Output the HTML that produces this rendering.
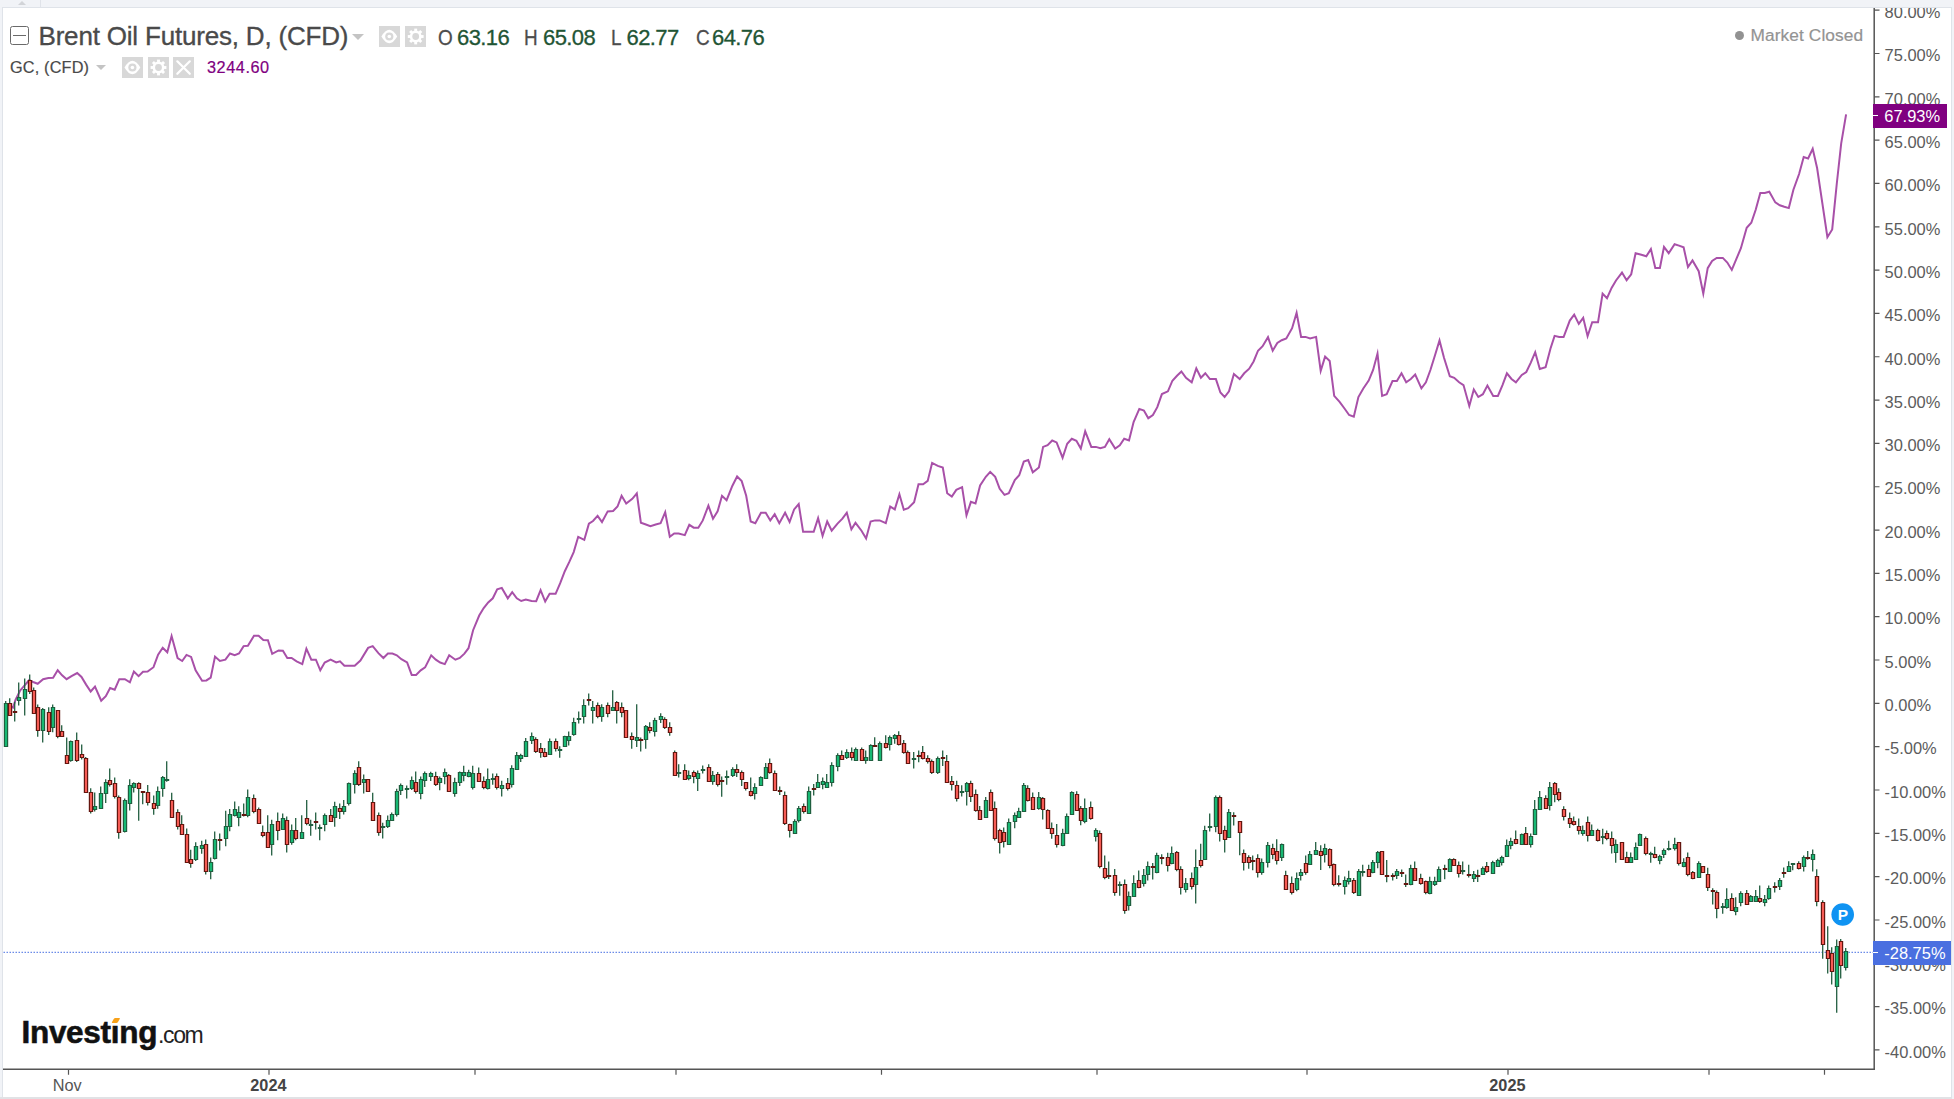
<!DOCTYPE html>
<html><head><meta charset="utf-8"><title>Brent Oil Futures chart</title>
<style>
html,body{margin:0;padding:0;}
body{width:1954px;height:1099px;background:#f1f3f7;position:relative;overflow:hidden;font-family:"Liberation Sans",sans-serif;}
#chart{position:absolute;left:2px;top:7px;width:1950px;height:1091px;background:#fff;border:1px solid #dfe3e9;box-sizing:border-box;}
svg{position:absolute;left:0;top:0;}
.t{position:absolute;white-space:nowrap;line-height:1;}
.ohlc{-webkit-text-stroke:0.3px currentColor;}
#gc,#gcv,#mc{-webkit-text-stroke:0.2px currentColor;}
.yl{position:absolute;left:1884.6px;font-size:16.45px;color:#5c5c5c;line-height:20px;height:20px;white-space:nowrap;}
.ib{position:absolute;background:#d8d8d8;}
.tag{position:absolute;color:#fff;font-size:16.45px;line-height:25px;height:24px;white-space:nowrap;box-sizing:border-box;padding-left:11.3px;}
</style></head><body>
<div id="chart"></div>
<svg width="1954" height="1099" viewBox="0 0 1954 1099">
<line x1="3.5" y1="952.3" x2="1874" y2="952.3" stroke="#5b7fe6" stroke-width="1.2" stroke-dasharray="1.5 1.5" opacity="0.9"/>
<path d="M5.4 704.3 L9.7 706.1 L13.1 707.6 L15.4 700.0 L20.0 690.7 L24.6 685.3 L29.2 680.0 L33.8 682.3 L37.7 683.8 L43.1 679.2 L48.4 678.0 L53.1 677.8 L57.7 670.3 L62.1 675.3 L66.6 679.2 L71.5 676.1 L77.2 673.0 L81.5 676.9 L86.1 684.6 L90.7 691.5 L95.0 686.6 L101.2 700.7 L105.8 696.1 L110.1 688.0 L114.7 689.7 L119.3 679.2 L124.9 679.2 L129.9 682.3 L133.9 671.5 L138.6 676.1 L143.0 671.8 L147.6 671.5 L153.5 667.2 L158.1 654.6 L162.7 647.7 L167.3 652.3 L171.6 636.1 L177.6 658.1 L182.2 661.0 L186.5 654.9 L191.1 656.9 L195.6 670.4 L202.1 680.7 L206.4 680.4 L210.7 677.7 L215.0 656.6 L219.9 661.0 L225.4 659.7 L230.0 653.5 L234.7 655.1 L239.0 653.5 L243.6 646.1 L247.9 645.8 L254.0 635.8 L258.6 635.8 L263.3 640.0 L267.9 640.3 L272.2 653.8 L278.6 650.4 L282.9 650.7 L287.3 658.1 L291.6 658.0 L296.6 661.3 L302.3 664.1 L306.4 648.7 L311.3 659.7 L315.9 659.7 L320.3 670.3 L324.7 662.6 L330.6 659.7 L336.2 662.5 L340.0 661.3 L344.4 665.7 L354.7 665.7 L360.4 660.5 L368.1 647.9 L372.7 646.1 L378.4 653.1 L383.4 658.0 L387.9 653.6 L392.4 653.6 L396.8 655.3 L401.4 659.2 L407.1 662.5 L411.7 674.9 L416.1 674.9 L420.7 670.3 L425.1 667.4 L431.2 655.3 L435.8 659.7 L440.2 662.5 L444.8 664.1 L449.2 655.3 L455.4 659.7 L459.8 658.0 L464.4 653.6 L468.5 648.2 L473.1 630.2 L479.2 615.5 L483.7 608.1 L488.2 602.4 L492.8 598.3 L497.2 589.3 L501.8 587.9 L507.8 598.3 L512.2 592.2 L516.8 598.3 L521.2 601.0 L525.8 599.6 L531.6 601.0 L536.2 601.2 L540.6 590.1 L545.2 601.5 L549.6 593.8 L555.6 593.8 L560.2 583.2 L564.8 571.2 L569.2 562.2 L573.7 552.1 L578.2 536.8 L584.3 539.8 L588.9 523.7 L593.0 521.0 L597.6 515.9 L602.0 522.0 L607.7 511.4 L613.1 511.0 L617.5 506.5 L621.6 495.8 L626.2 503.5 L632.3 498.8 L636.8 493.4 L640.9 522.8 L645.9 524.5 L650.4 526.1 L655.7 524.5 L660.6 523.2 L665.2 512.2 L669.8 536.8 L674.2 533.5 L678.6 533.5 L684.8 535.1 L689.3 524.8 L693.7 527.7 L698.3 527.7 L702.8 520.4 L708.4 505.6 L713.0 518.7 L717.6 511.4 L722.0 495.8 L726.6 500.2 L732.3 486.0 L737.1 476.5 L741.7 481.1 L746.2 495.8 L750.7 521.5 L755.3 523.2 L761.0 512.7 L765.7 512.7 L770.3 520.4 L774.7 514.2 L779.3 523.2 L785.1 512.7 L789.6 522.0 L794.1 509.4 L798.7 504.0 L803.1 531.8 L813.7 531.8 L818.1 518.2 L822.6 535.9 L827.2 521.5 L831.7 530.7 L837.5 523.6 L842.4 518.7 L846.8 512.7 L851.4 529.4 L855.5 522.8 L861.5 530.7 L866.1 538.4 L870.6 521.5 L875.1 520.4 L879.7 520.4 L885.8 523.2 L890.2 506.5 L894.8 509.4 L899.4 494.2 L903.8 509.7 L908.2 508.1 L914.1 502.2 L918.5 484.2 L923.1 484.2 L927.7 480.9 L932.1 462.9 L937.8 465.9 L942.8 467.5 L947.2 493.2 L951.8 496.5 L956.3 489.9 L962.1 487.2 L966.5 515.3 L970.9 501.9 L975.5 503.5 L980.1 485.5 L985.8 476.8 L990.2 471.9 L995.2 476.8 L999.7 488.8 L1004.5 494.9 L1008.8 493.2 L1014.8 480.1 L1019.2 475.2 L1023.8 461.6 L1028.2 460.1 L1032.8 472.4 L1038.9 467.5 L1043.1 446.9 L1047.6 445.2 L1052.2 440.5 L1056.6 442.4 L1062.6 457.7 L1067.2 443.8 L1071.8 438.8 L1076.4 440.8 L1080.8 448.5 L1085.2 431.3 L1091.3 446.9 L1095.9 446.9 L1100.3 448.2 L1104.9 446.9 L1109.3 439.2 L1115.2 448.5 L1119.8 445.4 L1124.2 438.8 L1129.0 440.5 L1133.6 422.0 L1139.3 408.9 L1143.9 410.5 L1148.3 418.2 L1152.9 415.1 L1157.3 407.2 L1161.9 394.1 L1167.9 391.3 L1172.4 380.7 L1177.0 375.8 L1181.4 371.5 L1186.0 377.8 L1191.7 382.3 L1196.3 368.4 L1200.9 377.8 L1205.3 373.2 L1209.9 379.1 L1215.9 379.1 L1220.4 392.5 L1224.6 397.0 L1229.0 391.3 L1233.9 374.1 L1239.7 379.0 L1244.2 373.3 L1249.2 368.7 L1253.6 361.5 L1258.0 350.7 L1262.6 346.2 L1268.0 337.2 L1272.7 350.7 L1277.3 343.0 L1281.7 340.2 L1286.3 338.5 L1292.1 328.2 L1296.6 312.7 L1301.1 336.9 L1305.5 336.9 L1310.1 338.5 L1316.1 336.9 L1320.7 370.8 L1325.1 356.6 L1329.7 361.0 L1334.2 395.9 L1339.6 401.9 L1344.5 408.5 L1349.1 415.0 L1353.8 416.7 L1358.4 397.0 L1363.3 388.5 L1368.7 380.6 L1373.1 370.0 L1377.5 353.6 L1382.1 395.9 L1386.7 394.2 L1392.5 381.0 L1396.9 381.0 L1401.5 373.3 L1406.2 382.3 L1410.8 379.0 L1415.2 374.6 L1421.4 388.3 L1425.9 382.3 L1430.4 370.0 L1435.0 355.2 L1439.5 340.5 L1444.0 357.7 L1449.8 376.2 L1454.2 377.8 L1459.1 382.3 L1463.5 385.1 L1469.3 406.0 L1473.8 389.6 L1478.3 397.0 L1482.9 394.2 L1487.4 385.5 L1493.2 395.9 L1497.9 395.9 L1502.5 385.1 L1506.9 373.3 L1511.5 379.0 L1515.9 382.3 L1521.8 374.9 L1526.3 372.0 L1530.8 362.6 L1535.2 352.2 L1539.8 368.9 L1545.6 367.3 L1550.5 348.5 L1554.6 335.9 L1559.2 337.0 L1563.6 337.0 L1569.8 320.6 L1574.2 314.6 L1578.8 323.9 L1583.2 317.8 L1587.6 336.2 L1592.2 322.3 L1598.0 322.3 L1602.6 293.6 L1607.0 298.2 L1611.6 287.9 L1616.0 280.5 L1622.0 272.6 L1626.6 280.2 L1631.2 274.3 L1635.6 253.2 L1641.4 254.8 L1646.3 256.3 L1650.9 249.1 L1655.3 267.9 L1659.9 267.9 L1664.0 246.9 L1668.7 253.2 L1674.6 244.2 L1679.0 245.6 L1683.6 247.3 L1688.0 267.1 L1692.5 260.5 L1698.7 271.2 L1703.3 293.6 L1707.7 268.2 L1712.1 260.9 L1716.7 257.9 L1722.8 257.9 L1727.3 262.5 L1731.8 269.9 L1736.4 258.9 L1740.9 248.2 L1746.7 227.7 L1751.3 222.8 L1755.7 209.7 L1760.3 193.0 L1764.7 193.0 L1769.3 191.7 L1775.3 202.4 L1779.8 205.3 L1784.3 206.8 L1788.8 208.1 L1793.4 189.7 L1799.1 174.0 L1803.7 157.0 L1808.1 158.5 L1812.7 148.8 L1817.1 168.0 L1827.4 237.2 L1832.2 229.4 L1836.8 183.5 L1841.2 143.4 L1846.1 114.4" fill="none" stroke="#a850a8" stroke-width="2" stroke-linejoin="miter" stroke-miterlimit="6" stroke-linecap="butt"/>
<path d="M5.70 701.1V747.0M9.70 698.2V715.4M14.70 701.8V721.4M18.70 682.6V705.6M24.70 678.5V715.4M29.70 674.4V694.1M33.70 687.5V713.7M37.70 704.4V736.7M42.70 708.0V742.4M48.70 707.2V735.0M52.70 704.4V732.3M57.70 710.0V738.3M61.70 725.2V736.3M66.70 737.5V763.2M70.70 740.4V761.7M76.70 732.6V762.1M81.70 744.5V759.6M85.70 757.1V792.0M90.70 788.3V813.6M94.70 792.4V811.5M100.70 786.6V808.2M105.70 779.3V803.0M109.70 768.6V786.6M114.70 777.6V798.4M118.70 795.6V838.7M124.70 798.4V832.5M129.70 779.3V810.4M133.70 782.2V792.4M138.70 782.2V820.7M142.70 791.5V804.3M147.70 785.0V805.5M153.70 795.6V814.8M157.70 786.6V808.7M162.70 776.0V796.8M166.70 761.2V781.7M171.70 792.7V817.3M177.70 809.2V829.5M181.70 815.3V834.1M186.70 828.4V862.3M190.70 849.7V867.7M195.70 842.3V861.1M201.70 840.7V853.8M205.70 839.4V874.6M210.70 857.4V879.2M214.70 831.6V859.6M219.70 833.4V850.4M225.70 810.8V846.3M229.70 809.1V831.2M234.70 801.4V816.5M238.70 806.3V826.3M243.70 803.4V816.5M247.70 789.5V817.3M253.70 794.4V813.2M258.70 807.5V823.4M262.70 825.5V837.3M267.70 815.2V847.3M271.70 819.8V855.5M277.70 812.4V840.2M282.70 813.6V829.1M286.70 816.5V852.5M291.70 824.4V844.7M295.70 818.1V840.2M301.70 815.2V838.3M306.70 800.1V825.2M310.70 819.8V835.7M315.70 812.4V829.6M319.70 824.4V840.2M324.70 813.6V831.2M330.70 809.1V821.9M334.70 801.8V826.7M339.70 803.4V819.0M343.70 800.1V814.5M348.70 782.4V805.5M354.70 770.2V793.6M358.70 761.3V785.9M363.70 774.4V793.6M367.70 779.3V791.6M372.70 792.8V820.3M378.70 812.4V835.7M382.70 822.7V838.6M387.70 815.4V828.0M391.70 812.4V820.3M396.70 788.7V816.5M400.70 783.4V794.9M406.70 785.4V798.5M411.70 776.4V790.0M415.70 771.5V793.6M420.70 776.4V799.3M424.70 771.5V787.0M430.70 771.8V781.0M435.70 771.8V785.9M439.70 776.4V790.3M444.70 768.5V784.2M448.70 773.9V791.9M454.70 777.7V796.8M459.70 771.5V785.9M463.70 765.7V781.3M468.70 769.8V777.2M472.70 765.7V789.5M478.70 767.4V781.3M483.70 776.4V789.2M487.70 768.5V789.5M492.70 773.4V784.8M496.70 773.4V789.4M501.70 780.7V796.6M507.70 777.9V790.5M511.70 765.2V787.6M516.70 752.1V769.3M520.70 753.7V761.9M525.70 738.1V757.0M531.70 732.4V743.9M535.70 737.3V752.9M540.70 743.1V757.8M544.70 748.0V757.3M549.70 738.5V754.0M555.70 738.5V751.6M559.70 746.3V757.8M564.70 735.7V747.1M568.70 731.6V745.5M573.70 717.7V735.7M578.70 711.6V723.4M583.70 699.3V723.4M588.70 693.4V705.4M592.70 701.0V723.4M597.70 702.4V718.2M601.70 704.2V721.8M607.70 702.4V717.3M612.70 690.2V711.1M616.70 701.0V723.4M621.70 702.4V717.3M625.70 710.3V737.8M631.70 732.4V748.8M636.70 704.2V747.1M640.70 737.6V751.6M645.70 725.0V748.8M649.70 722.3V733.2M654.70 717.7V736.5M660.70 713.2V722.9M664.70 717.3V729.1M669.70 722.3V735.7M674.70 750.4V775.3M678.70 764.3V777.4M684.70 764.3V779.9M688.70 770.4V780.2M693.70 770.4V783.2M697.70 770.4V790.9M702.70 765.5V773.4M708.70 764.3V781.2M712.70 770.9V784.8M717.70 772.0V786.5M721.70 776.6V796.8M726.70 770.4V784.8M732.70 767.3V777.1M736.70 764.3V777.1M741.70 770.4V786.1M745.70 782.4V790.5M750.70 777.4V796.6M754.70 783.2V799.6M760.70 776.3V785.6M765.70 763.0V778.3M769.70 758.6V773.7M774.70 770.4V790.2M779.70 786.5V795.1M784.70 791.4V824.9M789.70 823.8V837.5M794.70 819.2V833.5M798.70 806.1V822.5M803.70 803.6V813.4M808.70 786.4V813.4M813.70 784.0V795.4M817.70 774.1V787.2M822.70 777.4V789.2M826.70 774.1V787.2M831.70 762.3V786.4M837.70 753.3V771.3M841.70 750.4V759.1M846.70 749.2V759.1M851.70 747.4V760.5M855.70 747.4V760.2M861.70 747.4V760.2M865.70 750.4V763.8M870.70 744.3V760.2M874.70 737.3V747.1M879.70 741.4V760.2M885.70 735.2V748.4M889.70 735.6V750.4M894.70 734.0V743.8M898.70 731.2V745.5M903.70 740.1V753.7M907.70 750.4V763.2M913.70 752.0V768.4M918.70 750.4V762.3M922.70 746.0V759.4M927.70 755.3V763.5M931.70 759.4V774.1M937.70 756.4V774.1M942.70 750.4V765.9M946.70 755.0V782.6M951.70 776.1V790.5M956.70 780.7V801.5M961.70 785.3V796.6M966.70 782.0V805.6M970.70 780.7V802.0M975.70 789.4V811.8M979.70 806.1V820.0M985.70 797.1V817.2M990.70 789.4V811.0M994.70 801.6V840.5M999.70 828.7V853.6M1003.70 827.4V847.5M1008.70 818.4V844.2M1014.70 812.6V828.2M1018.70 807.7V817.2M1023.70 783.1V811.3M1027.70 785.3V801.6M1032.70 792.6V809.8M1038.70 792.1V809.8M1042.70 797.1V819.5M1047.70 809.3V829.0M1051.70 822.4V838.8M1056.70 824.1V847.5M1062.70 828.7V846.2M1066.70 813.4V833.9M1071.70 791.3V814.3M1076.70 791.3V811.0M1080.70 806.1V825.2M1084.70 798.4V823.3M1090.70 801.6V819.7M1095.70 828.2V841.6M1099.70 830.6V868.3M1104.70 855.5V879.3M1108.70 861.4V878.9M1114.70 869.1V895.8M1119.70 881.4V895.8M1124.70 879.4V913.8M1128.70 891.5V910.5M1133.70 875.3V896.4M1138.70 870.4V888.2M1143.70 869.1V886.6M1147.70 861.4V880.5M1152.70 863.0V879.4M1156.70 852.7V873.2M1161.70 854.3V864.2M1167.70 852.7V871.5M1171.70 846.5V864.2M1176.70 851.1V871.2M1180.70 866.3V894.5M1185.70 878.1V892.5M1191.70 872.4V889.6M1195.70 849.4V903.5M1200.70 843.7V867.4M1204.70 825.7V860.1M1209.70 813.4V831.4M1215.70 795.4V832.2M1219.70 795.4V841.6M1224.70 825.7V852.4M1228.70 809.0V838.0M1233.70 812.3V825.4M1239.70 821.3V855.2M1243.70 849.4V870.4M1248.70 855.2V868.8M1252.70 855.5V870.2M1257.70 854.3V877.6M1261.70 858.4V874.8M1267.70 842.1V867.4M1272.70 843.7V859.3M1276.70 839.3V864.5M1281.70 843.4V860.9M1285.70 870.7V889.2M1291.70 876.5V894.5M1296.70 872.4V891.2M1300.70 869.1V880.5M1305.70 855.5V874.8M1309.70 851.1V865.0M1315.70 842.1V854.8M1320.70 845.3V869.9M1324.70 843.7V862.5M1329.70 848.3V868.3M1333.70 863.4V886.3M1338.70 875.3V886.6M1344.70 876.5V894.5M1348.70 870.7V884.6M1353.70 878.1V894.1M1358.70 869.1V895.3M1362.70 864.7V876.5M1368.70 864.7V876.5M1372.70 860.1V873.2M1377.70 851.1V868.3M1381.70 851.1V874.5M1386.70 860.1V882.2M1392.70 873.2V880.5M1396.70 869.1V878.9M1401.70 869.4V877.1M1405.70 874.6V886.9M1410.70 864.8V885.3M1414.70 861.5V880.7M1420.70 873.8V884.8M1425.70 880.4V894.3M1429.70 876.8V894.3M1434.70 876.8V886.1M1438.70 866.5V882.0M1444.70 864.8V879.2M1449.70 858.3V871.4M1453.70 858.3V865.6M1458.70 861.5V877.4M1462.70 861.5V874.6M1468.70 864.8V877.4M1473.70 870.9V882.0M1477.70 869.7V882.0M1482.70 866.5V874.3M1486.70 861.9V873.0M1492.70 860.7V873.3M1497.70 858.8V866.5M1501.70 855.8V865.6M1506.70 839.4V856.6M1510.70 837.8V849.3M1515.70 830.4V844.3M1521.70 833.4V844.3M1525.70 827.1V844.3M1530.70 833.4V847.6M1534.70 800.1V834.5M1539.70 791.1V810.0M1545.70 795.2V808.3M1549.70 782.1V810.4M1554.70 782.1V802.3M1558.70 788.2V801.3M1563.70 806.3V820.6M1569.70 812.4V828.0M1573.70 816.5V825.5M1578.70 818.5V834.5M1582.70 825.5V835.7M1587.70 816.5V841.4M1591.70 824.4V835.7M1597.70 828.8V841.4M1602.70 828.8V844.3M1606.70 830.4V840.2M1611.70 831.6V853.4M1615.70 839.4V862.7M1621.70 842.4V859.4M1626.70 851.7V862.4M1630.70 852.5V862.4M1635.70 842.4V859.4M1639.70 833.4V846.0M1645.70 836.5V855.3M1650.70 851.7V862.7M1654.70 846.8V858.3M1659.70 854.7V864.3M1663.70 848.4V857.9M1668.70 840.7V850.4M1674.70 837.8V850.4M1678.70 842.4V865.6M1683.70 858.3V867.3M1687.70 852.5V876.3M1692.70 871.1V879.3M1698.70 861.3V877.2M1702.70 866.2V872.8M1707.70 867.8V891.1M1712.70 888.3V904.4M1716.70 890.4V918.3M1722.70 903.1V913.7M1726.70 888.3V908.8M1731.70 893.2V910.4M1735.70 897.3V915.3M1740.70 891.3V906.3M1746.70 890.0V904.2M1750.70 894.9V901.4M1755.70 890.0V901.4M1759.70 885.5V903.1M1764.70 894.9V906.3M1768.70 885.5V899.8M1774.70 882.3V892.4M1779.70 878.0V890.0M1783.70 867.5V877.7M1788.70 861.3V871.4M1792.70 863.3V870.3M1798.70 861.3V869.5M1803.70 855.6V871.4M1807.70 851.1V859.7M1812.70 849.5V871.4M1816.70 869.2V906.3M1822.70 900.3V958.7M1827.70 926.3V973.5M1831.70 947.3V984.4M1836.70 939.6V1012.8M1840.70 939.1V978.4M1845.70 948.1V970.5" stroke="#235f41" stroke-width="1.3" fill="none"/>
<path d="M4.4 703.5h3.2v43.0h-3.2zM17.4 697.5h3.2v3.0h-3.2zM23.4 689.5h3.2v9.0h-3.2zM41.4 709.5h3.2v21.0h-3.2zM51.4 707.5h3.2v20.0h-3.2zM69.4 741.5h3.2v19.0h-3.2zM93.4 806.5h3.2v3.0h-3.2zM99.4 793.5h3.2v15.0h-3.2zM104.4 782.5h3.2v11.0h-3.2zM123.4 800.5h3.2v31.0h-3.2zM128.4 785.5h3.2v18.0h-3.2zM132.4 783.5h3.2v4.0h-3.2zM156.4 791.5h3.2v14.0h-3.2zM161.4 777.5h3.2v11.0h-3.2zM165.4 779.5h3.2v1.0h-3.2zM194.4 846.5h3.2v13.0h-3.2zM200.4 845.5h3.2v3.0h-3.2zM209.4 862.5h3.2v9.0h-3.2zM213.4 839.5h3.2v19.0h-3.2zM224.4 826.5h3.2v12.0h-3.2zM228.4 814.5h3.2v12.0h-3.2zM233.4 809.5h3.2v6.0h-3.2zM237.4 812.5h3.2v5.0h-3.2zM246.4 797.5h3.2v18.0h-3.2zM270.4 824.5h3.2v20.0h-3.2zM281.4 818.5h3.2v11.0h-3.2zM290.4 830.5h3.2v12.0h-3.2zM300.4 832.5h3.2v6.0h-3.2zM309.4 824.5h3.2v1.0h-3.2zM318.4 827.5h3.2v1.0h-3.2zM323.4 815.5h3.2v9.0h-3.2zM333.4 806.5h3.2v11.0h-3.2zM342.4 806.5h3.2v5.0h-3.2zM347.4 783.5h3.2v20.0h-3.2zM353.4 773.5h3.2v11.0h-3.2zM362.4 779.5h3.2v3.0h-3.2zM381.4 826.5h3.2v1.0h-3.2zM386.4 820.5h3.2v6.0h-3.2zM390.4 814.5h3.2v6.0h-3.2zM395.4 791.5h3.2v23.0h-3.2zM399.4 785.5h3.2v5.0h-3.2zM405.4 788.5h3.2v1.0h-3.2zM410.4 780.5h3.2v8.0h-3.2zM419.4 779.5h3.2v14.0h-3.2zM423.4 773.5h3.2v7.0h-3.2zM429.4 773.5h3.2v3.0h-3.2zM438.4 778.5h3.2v4.0h-3.2zM443.4 772.5h3.2v4.0h-3.2zM453.4 782.5h3.2v11.0h-3.2zM458.4 772.5h3.2v10.0h-3.2zM462.4 772.5h3.2v3.0h-3.2zM467.4 772.5h3.2v4.0h-3.2zM471.4 773.5h3.2v14.0h-3.2zM486.4 779.5h3.2v9.0h-3.2zM491.4 778.5h3.2v1.0h-3.2zM500.4 785.5h3.2v3.0h-3.2zM510.4 768.5h3.2v16.0h-3.2zM515.4 755.5h3.2v14.0h-3.2zM519.4 755.5h3.2v3.0h-3.2zM524.4 741.5h3.2v15.0h-3.2zM530.4 736.5h3.2v4.0h-3.2zM548.4 741.5h3.2v13.0h-3.2zM558.4 749.5h3.2v1.0h-3.2zM563.4 736.5h3.2v10.0h-3.2zM567.4 736.5h3.2v4.0h-3.2zM572.4 722.5h3.2v12.0h-3.2zM577.4 718.5h3.2v1.0h-3.2zM582.4 705.5h3.2v11.0h-3.2zM591.4 707.5h3.2v3.0h-3.2zM600.4 707.5h3.2v9.0h-3.2zM611.4 707.5h3.2v3.0h-3.2zM635.4 737.5h3.2v3.0h-3.2zM644.4 726.5h3.2v13.0h-3.2zM653.4 720.5h3.2v11.0h-3.2zM659.4 716.5h3.2v3.0h-3.2zM677.4 772.5h3.2v1.0h-3.2zM687.4 775.5h3.2v3.0h-3.2zM696.4 773.5h3.2v5.0h-3.2zM701.4 769.5h3.2v1.0h-3.2zM711.4 775.5h3.2v6.0h-3.2zM725.4 776.5h3.2v1.0h-3.2zM731.4 769.5h3.2v6.0h-3.2zM753.4 787.5h3.2v6.0h-3.2zM759.4 777.5h3.2v8.0h-3.2zM764.4 767.5h3.2v11.0h-3.2zM793.4 821.5h3.2v12.0h-3.2zM797.4 808.5h3.2v12.0h-3.2zM807.4 791.5h3.2v22.0h-3.2zM816.4 782.5h3.2v5.0h-3.2zM821.4 781.5h3.2v3.0h-3.2zM825.4 782.5h3.2v5.0h-3.2zM830.4 765.5h3.2v17.0h-3.2zM836.4 755.5h3.2v11.0h-3.2zM845.4 752.5h3.2v5.0h-3.2zM854.4 749.5h3.2v11.0h-3.2zM864.4 757.5h3.2v3.0h-3.2zM869.4 745.5h3.2v15.0h-3.2zM878.4 743.5h3.2v17.0h-3.2zM888.4 737.5h3.2v7.0h-3.2zM893.4 735.5h3.2v3.0h-3.2zM912.4 758.5h3.2v1.0h-3.2zM936.4 758.5h3.2v14.0h-3.2zM960.4 791.5h3.2v1.0h-3.2zM965.4 783.5h3.2v8.0h-3.2zM984.4 800.5h3.2v17.0h-3.2zM1007.4 822.5h3.2v22.0h-3.2zM1013.4 815.5h3.2v6.0h-3.2zM1017.4 811.5h3.2v6.0h-3.2zM1022.4 785.5h3.2v26.0h-3.2zM1037.4 797.5h3.2v11.0h-3.2zM1061.4 833.5h3.2v12.0h-3.2zM1065.4 816.5h3.2v17.0h-3.2zM1070.4 792.5h3.2v22.0h-3.2zM1083.4 808.5h3.2v13.0h-3.2zM1094.4 830.5h3.2v6.0h-3.2zM1118.4 884.5h3.2v1.0h-3.2zM1127.4 896.5h3.2v9.0h-3.2zM1132.4 883.5h3.2v13.0h-3.2zM1142.4 875.5h3.2v8.0h-3.2zM1146.4 866.5h3.2v8.0h-3.2zM1155.4 855.5h3.2v17.0h-3.2zM1170.4 853.5h3.2v10.0h-3.2zM1184.4 883.5h3.2v6.0h-3.2zM1194.4 867.5h3.2v17.0h-3.2zM1203.4 830.5h3.2v29.0h-3.2zM1208.4 826.5h3.2v1.0h-3.2zM1214.4 797.5h3.2v29.0h-3.2zM1227.4 812.5h3.2v25.0h-3.2zM1260.4 862.5h3.2v10.0h-3.2zM1266.4 845.5h3.2v17.0h-3.2zM1280.4 844.5h3.2v13.0h-3.2zM1295.4 878.5h3.2v11.0h-3.2zM1299.4 872.5h3.2v3.0h-3.2zM1308.4 854.5h3.2v10.0h-3.2zM1314.4 850.5h3.2v4.0h-3.2zM1323.4 848.5h3.2v6.0h-3.2zM1343.4 880.5h3.2v6.0h-3.2zM1347.4 878.5h3.2v3.0h-3.2zM1357.4 871.5h3.2v24.0h-3.2zM1361.4 871.5h3.2v1.0h-3.2zM1371.4 862.5h3.2v10.0h-3.2zM1376.4 852.5h3.2v10.0h-3.2zM1395.4 871.5h3.2v4.0h-3.2zM1409.4 868.5h3.2v16.0h-3.2zM1428.4 881.5h3.2v12.0h-3.2zM1433.4 881.5h3.2v3.0h-3.2zM1437.4 869.5h3.2v12.0h-3.2zM1448.4 859.5h3.2v12.0h-3.2zM1461.4 870.5h3.2v1.0h-3.2zM1472.4 874.5h3.2v4.0h-3.2zM1481.4 868.5h3.2v6.0h-3.2zM1491.4 862.5h3.2v11.0h-3.2zM1496.4 860.5h3.2v6.0h-3.2zM1500.4 857.5h3.2v5.0h-3.2zM1505.4 845.5h3.2v11.0h-3.2zM1509.4 841.5h3.2v4.0h-3.2zM1520.4 834.5h3.2v10.0h-3.2zM1529.4 836.5h3.2v8.0h-3.2zM1533.4 809.5h3.2v25.0h-3.2zM1538.4 797.5h3.2v12.0h-3.2zM1548.4 787.5h3.2v18.0h-3.2zM1581.4 830.5h3.2v3.0h-3.2zM1590.4 830.5h3.2v5.0h-3.2zM1601.4 836.5h3.2v1.0h-3.2zM1614.4 844.5h3.2v8.0h-3.2zM1629.4 857.5h3.2v5.0h-3.2zM1634.4 847.5h3.2v12.0h-3.2zM1638.4 834.5h3.2v11.0h-3.2zM1649.4 853.5h3.2v1.0h-3.2zM1658.4 856.5h3.2v4.0h-3.2zM1662.4 850.5h3.2v4.0h-3.2zM1667.4 848.5h3.2v1.0h-3.2zM1673.4 844.5h3.2v4.0h-3.2zM1682.4 862.5h3.2v4.0h-3.2zM1697.4 863.5h3.2v14.0h-3.2zM1721.4 906.5h3.2v1.0h-3.2zM1725.4 899.5h3.2v8.0h-3.2zM1734.4 907.5h3.2v4.0h-3.2zM1739.4 893.5h3.2v9.0h-3.2zM1749.4 896.5h3.2v5.0h-3.2zM1754.4 896.5h3.2v5.0h-3.2zM1763.4 899.5h3.2v3.0h-3.2zM1767.4 888.5h3.2v10.0h-3.2zM1778.4 880.5h3.2v6.0h-3.2zM1787.4 866.5h3.2v5.0h-3.2zM1791.4 863.5h3.2v1.0h-3.2zM1802.4 857.5h3.2v9.0h-3.2zM1811.4 854.5h3.2v5.0h-3.2zM1835.4 946.5h3.2v40.0h-3.2zM1844.4 951.5h3.2v16.0h-3.2z" fill="#17b873" stroke="#1f5f3f" stroke-width="1.2"/>
<path d="M8.4 703.5h3.2v12.0h-3.2zM13.4 711.5h3.2v1.0h-3.2zM28.4 680.5h3.2v11.0h-3.2zM32.4 690.5h3.2v23.0h-3.2zM36.4 707.5h3.2v23.0h-3.2zM47.4 712.5h3.2v19.0h-3.2zM56.4 710.5h3.2v26.0h-3.2zM60.4 731.5h3.2v5.0h-3.2zM65.4 755.5h3.2v8.0h-3.2zM75.4 740.5h3.2v20.0h-3.2zM80.4 754.5h3.2v3.0h-3.2zM84.4 758.5h3.2v34.0h-3.2zM89.4 792.5h3.2v19.0h-3.2zM108.4 780.5h3.2v4.0h-3.2zM113.4 783.5h3.2v13.0h-3.2zM117.4 797.5h3.2v35.0h-3.2zM137.4 783.5h3.2v5.0h-3.2zM141.4 791.5h3.2v1.0h-3.2zM146.4 792.5h3.2v10.0h-3.2zM152.4 803.5h3.2v5.0h-3.2zM170.4 800.5h3.2v17.0h-3.2zM176.4 812.5h3.2v14.0h-3.2zM180.4 824.5h3.2v10.0h-3.2zM185.4 834.5h3.2v28.0h-3.2zM189.4 859.5h3.2v4.0h-3.2zM204.4 844.5h3.2v27.0h-3.2zM218.4 839.5h3.2v1.0h-3.2zM242.4 814.5h3.2v1.0h-3.2zM252.4 798.5h3.2v13.0h-3.2zM257.4 809.5h3.2v14.0h-3.2zM261.4 832.5h3.2v3.0h-3.2zM266.4 832.5h3.2v15.0h-3.2zM276.4 821.5h3.2v9.0h-3.2zM285.4 820.5h3.2v24.0h-3.2zM294.4 830.5h3.2v8.0h-3.2zM305.4 818.5h3.2v5.0h-3.2zM314.4 821.5h3.2v1.0h-3.2zM329.4 815.5h3.2v6.0h-3.2zM338.4 808.5h3.2v3.0h-3.2zM357.4 767.5h3.2v17.0h-3.2zM366.4 779.5h3.2v12.0h-3.2zM371.4 802.5h3.2v18.0h-3.2zM377.4 815.5h3.2v17.0h-3.2zM414.4 782.5h3.2v9.0h-3.2zM434.4 776.5h3.2v8.0h-3.2zM447.4 775.5h3.2v16.0h-3.2zM477.4 773.5h3.2v8.0h-3.2zM482.4 781.5h3.2v6.0h-3.2zM495.4 776.5h3.2v11.0h-3.2zM506.4 783.5h3.2v5.0h-3.2zM534.4 739.5h3.2v12.0h-3.2zM539.4 748.5h3.2v4.0h-3.2zM543.4 752.5h3.2v4.0h-3.2zM554.4 741.5h3.2v7.0h-3.2zM587.4 699.5h3.2v1.0h-3.2zM596.4 705.5h3.2v11.0h-3.2zM606.4 705.5h3.2v8.0h-3.2zM615.4 702.5h3.2v8.0h-3.2zM620.4 707.5h3.2v5.0h-3.2zM624.4 710.5h3.2v27.0h-3.2zM630.4 736.5h3.2v3.0h-3.2zM639.4 739.5h3.2v1.0h-3.2zM648.4 727.5h3.2v3.0h-3.2zM663.4 719.5h3.2v8.0h-3.2zM668.4 727.5h3.2v5.0h-3.2zM673.4 752.5h3.2v23.0h-3.2zM683.4 770.5h3.2v9.0h-3.2zM692.4 772.5h3.2v4.0h-3.2zM707.4 767.5h3.2v14.0h-3.2zM716.4 774.5h3.2v10.0h-3.2zM720.4 780.5h3.2v1.0h-3.2zM735.4 769.5h3.2v3.0h-3.2zM740.4 772.5h3.2v7.0h-3.2zM744.4 782.5h3.2v6.0h-3.2zM749.4 791.5h3.2v4.0h-3.2zM768.4 763.5h3.2v9.0h-3.2zM773.4 773.5h3.2v17.0h-3.2zM778.4 790.5h3.2v1.0h-3.2zM783.4 795.5h3.2v28.0h-3.2zM788.4 824.5h3.2v6.0h-3.2zM802.4 806.5h3.2v5.0h-3.2zM812.4 788.5h3.2v1.0h-3.2zM840.4 755.5h3.2v4.0h-3.2zM850.4 752.5h3.2v5.0h-3.2zM860.4 749.5h3.2v11.0h-3.2zM873.4 745.5h3.2v1.0h-3.2zM884.4 743.5h3.2v4.0h-3.2zM897.4 735.5h3.2v9.0h-3.2zM902.4 743.5h3.2v9.0h-3.2zM906.4 752.5h3.2v11.0h-3.2zM917.4 755.5h3.2v1.0h-3.2zM921.4 752.5h3.2v6.0h-3.2zM926.4 758.5h3.2v3.0h-3.2zM930.4 761.5h3.2v11.0h-3.2zM941.4 757.5h3.2v1.0h-3.2zM945.4 761.5h3.2v21.0h-3.2zM950.4 781.5h3.2v3.0h-3.2zM955.4 785.5h3.2v13.0h-3.2zM969.4 783.5h3.2v13.0h-3.2zM974.4 794.5h3.2v16.0h-3.2zM978.4 810.5h3.2v9.0h-3.2zM989.4 792.5h3.2v18.0h-3.2zM993.4 808.5h3.2v30.0h-3.2zM998.4 830.5h3.2v12.0h-3.2zM1002.4 832.5h3.2v9.0h-3.2zM1026.4 788.5h3.2v12.0h-3.2zM1031.4 797.5h3.2v12.0h-3.2zM1041.4 798.5h3.2v11.0h-3.2zM1046.4 810.5h3.2v18.0h-3.2zM1050.4 828.5h3.2v5.0h-3.2zM1055.4 835.5h3.2v9.0h-3.2zM1075.4 794.5h3.2v16.0h-3.2zM1079.4 808.5h3.2v12.0h-3.2zM1089.4 807.5h3.2v11.0h-3.2zM1098.4 833.5h3.2v33.0h-3.2zM1103.4 868.5h3.2v9.0h-3.2zM1107.4 875.5h3.2v1.0h-3.2zM1113.4 875.5h3.2v17.0h-3.2zM1123.4 884.5h3.2v26.0h-3.2zM1137.4 880.5h3.2v7.0h-3.2zM1151.4 866.5h3.2v1.0h-3.2zM1160.4 857.5h3.2v1.0h-3.2zM1166.4 857.5h3.2v8.0h-3.2zM1175.4 852.5h3.2v17.0h-3.2zM1179.4 869.5h3.2v18.0h-3.2zM1190.4 878.5h3.2v8.0h-3.2zM1199.4 860.5h3.2v5.0h-3.2zM1218.4 797.5h3.2v36.0h-3.2zM1223.4 830.5h3.2v9.0h-3.2zM1232.4 815.5h3.2v1.0h-3.2zM1238.4 821.5h3.2v11.0h-3.2zM1242.4 853.5h3.2v9.0h-3.2zM1247.4 857.5h3.2v5.0h-3.2zM1251.4 860.5h3.2v1.0h-3.2zM1256.4 858.5h3.2v14.0h-3.2zM1271.4 848.5h3.2v6.0h-3.2zM1275.4 851.5h3.2v9.0h-3.2zM1284.4 875.5h3.2v14.0h-3.2zM1290.4 883.5h3.2v9.0h-3.2zM1304.4 863.5h3.2v9.0h-3.2zM1319.4 851.5h3.2v4.0h-3.2zM1328.4 849.5h3.2v16.0h-3.2zM1332.4 864.5h3.2v20.0h-3.2zM1337.4 883.5h3.2v1.0h-3.2zM1352.4 880.5h3.2v12.0h-3.2zM1367.4 869.5h3.2v7.0h-3.2zM1380.4 851.5h3.2v23.0h-3.2zM1385.4 875.5h3.2v1.0h-3.2zM1391.4 875.5h3.2v1.0h-3.2zM1400.4 872.5h3.2v1.0h-3.2zM1404.4 883.5h3.2v1.0h-3.2zM1413.4 868.5h3.2v12.0h-3.2zM1419.4 878.5h3.2v5.0h-3.2zM1424.4 881.5h3.2v11.0h-3.2zM1443.4 868.5h3.2v1.0h-3.2zM1452.4 859.5h3.2v6.0h-3.2zM1457.4 865.5h3.2v8.0h-3.2zM1467.4 874.5h3.2v1.0h-3.2zM1476.4 875.5h3.2v1.0h-3.2zM1485.4 866.5h3.2v5.0h-3.2zM1514.4 839.5h3.2v4.0h-3.2zM1524.4 833.5h3.2v11.0h-3.2zM1544.4 798.5h3.2v10.0h-3.2zM1553.4 783.5h3.2v11.0h-3.2zM1557.4 792.5h3.2v7.0h-3.2zM1562.4 809.5h3.2v7.0h-3.2zM1568.4 818.5h3.2v5.0h-3.2zM1572.4 821.5h3.2v3.0h-3.2zM1577.4 826.5h3.2v4.0h-3.2zM1586.4 822.5h3.2v13.0h-3.2zM1596.4 830.5h3.2v10.0h-3.2zM1605.4 833.5h3.2v5.0h-3.2zM1610.4 838.5h3.2v7.0h-3.2zM1620.4 842.5h3.2v17.0h-3.2zM1625.4 857.5h3.2v5.0h-3.2zM1644.4 838.5h3.2v15.0h-3.2zM1653.4 854.5h3.2v3.0h-3.2zM1677.4 842.5h3.2v21.0h-3.2zM1686.4 857.5h3.2v17.0h-3.2zM1691.4 872.5h3.2v6.0h-3.2zM1701.4 866.5h3.2v6.0h-3.2zM1706.4 874.5h3.2v13.0h-3.2zM1711.4 890.5h3.2v1.0h-3.2zM1715.4 892.5h3.2v16.0h-3.2zM1730.4 898.5h3.2v12.0h-3.2zM1745.4 893.5h3.2v11.0h-3.2zM1758.4 898.5h3.2v3.0h-3.2zM1773.4 886.5h3.2v1.0h-3.2zM1782.4 872.5h3.2v1.0h-3.2zM1797.4 863.5h3.2v5.0h-3.2zM1806.4 857.5h3.2v1.0h-3.2zM1815.4 876.5h3.2v25.0h-3.2zM1821.4 902.5h3.2v42.0h-3.2zM1826.4 950.5h3.2v8.0h-3.2zM1830.4 953.5h3.2v18.0h-3.2zM1839.4 941.5h3.2v24.0h-3.2z" fill="#f65c55" stroke="#64160f" stroke-width="1.2"/>
<path d="M3 1069.2H1875 M1874.2 8V1069.8" stroke="#555" stroke-width="1.5" fill="none"/>
<path d="M68.5 1069V1074.7M269.0 1069V1074.7M475.0 1069V1074.7M676.0 1069V1074.7M881.5 1069V1074.7M1097.0 1069V1074.7M1307.0 1069V1074.7M1508.0 1069V1074.7M1709.0 1069V1074.7M1824.5 1069V1074.7" stroke="#555" stroke-width="1.2" fill="none"/>
<path d="M1874 1049.95H1879.5M1874 1006.62H1879.5M1874 963.30H1879.5M1874 919.98H1879.5M1874 876.65H1879.5M1874 833.33H1879.5M1874 790.00H1879.5M1874 746.68H1879.5M1874 703.35H1879.5M1874 660.02H1879.5M1874 616.70H1879.5M1874 573.38H1879.5M1874 530.05H1879.5M1874 486.73H1879.5M1874 443.40H1879.5M1874 400.08H1879.5M1874 356.75H1879.5M1874 313.43H1879.5M1874 270.10H1879.5M1874 226.78H1879.5M1874 183.45H1879.5M1874 140.13H1879.5M1874 96.80H1879.5M1874 53.48H1879.5M1874 10.15H1879.5" stroke="#555" stroke-width="1.2" fill="none"/>
<circle cx="1842.7" cy="914.5" r="11.3" fill="#0f93f2"/>
<text x="1842.9" y="920" text-anchor="middle" font-family="Liberation Sans, sans-serif" font-weight="bold" font-size="15.5" fill="#fff">P</text>
</svg>
<div class="yl" style="top:1041.7px">-40.00%</div>
<div class="yl" style="top:998.3px">-35.00%</div>
<div class="yl" style="top:955.0px">-30.00%</div>
<div class="yl" style="top:911.7px">-25.00%</div>
<div class="yl" style="top:868.4px">-20.00%</div>
<div class="yl" style="top:825.0px">-15.00%</div>
<div class="yl" style="top:781.7px">-10.00%</div>
<div class="yl" style="top:738.4px">-5.00%</div>
<div class="yl" style="top:695.1px">0.00%</div>
<div class="yl" style="top:651.7px">5.00%</div>
<div class="yl" style="top:608.4px">10.00%</div>
<div class="yl" style="top:565.1px">15.00%</div>
<div class="yl" style="top:521.8px">20.00%</div>
<div class="yl" style="top:478.4px">25.00%</div>
<div class="yl" style="top:435.1px">30.00%</div>
<div class="yl" style="top:391.8px">35.00%</div>
<div class="yl" style="top:348.5px">40.00%</div>
<div class="yl" style="top:305.1px">45.00%</div>
<div class="yl" style="top:261.8px">50.00%</div>
<div class="yl" style="top:218.5px">55.00%</div>
<div class="yl" style="top:175.2px">60.00%</div>
<div class="yl" style="top:131.8px">65.00%</div>
<div class="yl" style="top:88.5px">70.00%</div>
<div class="yl" style="top:45.2px">75.00%</div>
<div class="yl" style="top:1.9px">80.00%</div>
<div class="tag" style="left:1873px;top:104px;width:74px;background:#800080;">67.93%</div>
<div style="position:absolute;left:1873px;top:114.5px;width:5px;height:1.3px;background:#fff"></div>
<div class="tag" style="left:1873px;top:941px;width:78px;background:#4a6fe0;">-28.75%</div>
<div style="position:absolute;left:1873px;top:952px;width:5px;height:1.3px;background:#fff"></div>

<div style="position:absolute;left:0;top:0;width:1954px;height:7px;background:#f1f3f7"></div><div style="position:absolute;left:2px;top:7px;width:1950px;height:1px;background:#dfe3e9"></div><div style="position:absolute;left:0;top:1097px;width:1952px;height:2px;background:#e1e2e5"></div>
<div style="position:absolute;left:40px;top:0;width:1px;height:7px;background:#e0e3e9"></div>
<div style="position:absolute;left:18px;top:1px;width:0;height:0;border-left:4px solid transparent;border-right:4px solid transparent;border-bottom:4.6px solid #d2d4d8"></div>
<!-- header -->
<div style="position:absolute;left:10.2px;top:26px;width:16.5px;height:17px;border:1.2px solid #6a6a6a;border-radius:2.5px;"></div>
<div style="position:absolute;left:13.1px;top:34.9px;width:12.7px;height:1.3px;background:#6a6a6a;"></div>
<div class="t" id="title" style="left:38.5px;top:23.2px;font-size:26px;letter-spacing:-0.19px;color:#4a4a4a;-webkit-text-stroke:0.35px #4a4a4a;">Brent Oil Futures, D, (CFD)</div>
<div style="position:absolute;left:352px;top:34px;width:0;height:0;border-left:6px solid transparent;border-right:6px solid transparent;border-top:6px solid #c4c4c4"></div>
<div class="ib" style="left:379px;top:26px;width:21px;height:21px;"></div>
<div class="ib" style="left:405px;top:26px;width:21px;height:21px;"></div>
<svg width="60" height="30" style="left:375px;top:22px" viewBox="375 22 60 30"><path d="M381.4 36.5Q389.3 23.0 397.2 36.5Q389.3 50.0 381.4 36.5Z" fill="#fff"/><circle cx="389.3" cy="36.5" r="4.1" fill="#d8d8d8"/><circle cx="389.3" cy="36.5" r="1.8" fill="#fff"/><rect x="414.25" y="28.60" width="2.9" height="4" fill="#fff" transform="rotate(0 415.7 36.5)"/><rect x="414.25" y="28.60" width="2.9" height="4" fill="#fff" transform="rotate(45 415.7 36.5)"/><rect x="414.25" y="28.60" width="2.9" height="4" fill="#fff" transform="rotate(90 415.7 36.5)"/><rect x="414.25" y="28.60" width="2.9" height="4" fill="#fff" transform="rotate(135 415.7 36.5)"/><rect x="414.25" y="28.60" width="2.9" height="4" fill="#fff" transform="rotate(180 415.7 36.5)"/><rect x="414.25" y="28.60" width="2.9" height="4" fill="#fff" transform="rotate(225 415.7 36.5)"/><rect x="414.25" y="28.60" width="2.9" height="4" fill="#fff" transform="rotate(270 415.7 36.5)"/><rect x="414.25" y="28.60" width="2.9" height="4" fill="#fff" transform="rotate(315 415.7 36.5)"/><circle cx="415.7" cy="36.5" r="5.9" fill="#fff"/><circle cx="415.7" cy="36.5" r="3.4" fill="#d8d8d8"/></svg>
<div class="t ohlc" id="o1" style="left:438px;top:27px;font-size:22px;color:#4d4d4d;transform:scaleX(0.86);transform-origin:0 0;">O</div>
<div class="t ohlc" id="o2" style="left:457px;top:27px;font-size:22px;letter-spacing:-0.6px;color:#1f5535;">63.16</div>
<div class="t ohlc" id="h1" style="left:524.2px;top:27px;font-size:22px;color:#4d4d4d;transform:scaleX(0.86);transform-origin:0 0;">H</div>
<div class="t ohlc" id="h2" style="left:543px;top:27px;font-size:22px;letter-spacing:-0.6px;color:#1f5535;">65.08</div>
<div class="t ohlc" id="l1" style="left:610.8px;top:27px;font-size:22px;color:#4d4d4d;transform:scaleX(0.86);transform-origin:0 0;">L</div>
<div class="t ohlc" id="l2" style="left:626.5px;top:27px;font-size:22px;letter-spacing:-0.6px;color:#1f5535;">62.77</div>
<div class="t ohlc" id="c1" style="left:695.5px;top:27px;font-size:22px;color:#4d4d4d;transform:scaleX(0.86);transform-origin:0 0;">C</div>
<div class="t ohlc" id="c2" style="left:712px;top:27px;font-size:22px;letter-spacing:-0.6px;color:#1f5535;">64.76</div>

<div class="t" id="gc" style="left:10px;top:59px;font-size:16.3px;letter-spacing:0.15px;color:#4a4a4a;">GC, (CFD)</div>
<div style="position:absolute;left:95.5px;top:65px;width:0;height:0;border-left:5.5px solid transparent;border-right:5.5px solid transparent;border-top:5.5px solid #c4c4c4"></div>
<div class="ib" style="left:122.1px;top:57.1px;width:20.8px;height:20.8px;"></div>
<div class="ib" style="left:148.1px;top:57.1px;width:20.8px;height:20.8px;"></div>
<div class="ib" style="left:173.1px;top:57.1px;width:20.8px;height:20.8px;"></div>
<svg width="90" height="30" style="left:118px;top:53px" viewBox="118 53 90 30"><path d="M124.5 67.5Q132.4 54.0 140.3 67.5Q132.4 81.0 124.5 67.5Z" fill="#fff"/><circle cx="132.4" cy="67.5" r="4.1" fill="#d8d8d8"/><circle cx="132.4" cy="67.5" r="1.8" fill="#fff"/><rect x="157.05" y="59.60" width="2.9" height="4" fill="#fff" transform="rotate(0 158.5 67.5)"/><rect x="157.05" y="59.60" width="2.9" height="4" fill="#fff" transform="rotate(45 158.5 67.5)"/><rect x="157.05" y="59.60" width="2.9" height="4" fill="#fff" transform="rotate(90 158.5 67.5)"/><rect x="157.05" y="59.60" width="2.9" height="4" fill="#fff" transform="rotate(135 158.5 67.5)"/><rect x="157.05" y="59.60" width="2.9" height="4" fill="#fff" transform="rotate(180 158.5 67.5)"/><rect x="157.05" y="59.60" width="2.9" height="4" fill="#fff" transform="rotate(225 158.5 67.5)"/><rect x="157.05" y="59.60" width="2.9" height="4" fill="#fff" transform="rotate(270 158.5 67.5)"/><rect x="157.05" y="59.60" width="2.9" height="4" fill="#fff" transform="rotate(315 158.5 67.5)"/><circle cx="158.5" cy="67.5" r="5.9" fill="#fff"/><circle cx="158.5" cy="67.5" r="3.4" fill="#d8d8d8"/><path d="M177.3 61.3L189.8 73.8M189.8 61.3L177.3 73.8" stroke="#fff" stroke-width="2.2" stroke-linecap="round" fill="none"/></svg>
<div class="t" id="gcv" style="left:207px;top:59px;font-size:16.3px;letter-spacing:0.55px;color:#800080;">3244.60</div>

<div style="position:absolute;left:1735px;top:31px;width:9px;height:9px;border-radius:50%;background:#929292;"></div>
<div class="t" id="mc" style="left:1750.5px;top:26.8px;font-size:17.3px;letter-spacing:0.1px;color:#939393;">Market Closed</div>

<!-- logo -->
<div class="t" id="logo" style="left:21.5px;top:1016.6px;font-size:31.5px;font-weight:bold;color:#111;letter-spacing:-0.3px;-webkit-text-stroke:0.6px #111;">Investing<span id="com" style="-webkit-text-stroke:0;font-weight:normal;font-size:23px;letter-spacing:-1.4px;color:#222;margin-left:1px">.com</span></div>
<div style="position:absolute;left:109px;top:1016px;width:10px;height:7.5px;background:#fff"></div>
<div style="position:absolute;left:112.5px;top:1018px;width:6px;height:4.5px;background:#f7a11a;transform:skewX(-30deg);border-radius:1px"></div>

<div class="t" id="nov" style="left:52.8px;top:1076.9px;font-size:16.3px;color:#555;">Nov</div>
<div class="t" id="y24" style="left:250.3px;top:1076.9px;font-size:16.3px;color:#444;font-weight:bold;">2024</div>
<div class="t" id="y25" style="left:1489.3px;top:1076.9px;font-size:16.3px;color:#444;font-weight:bold;">2025</div>
</body></html>
